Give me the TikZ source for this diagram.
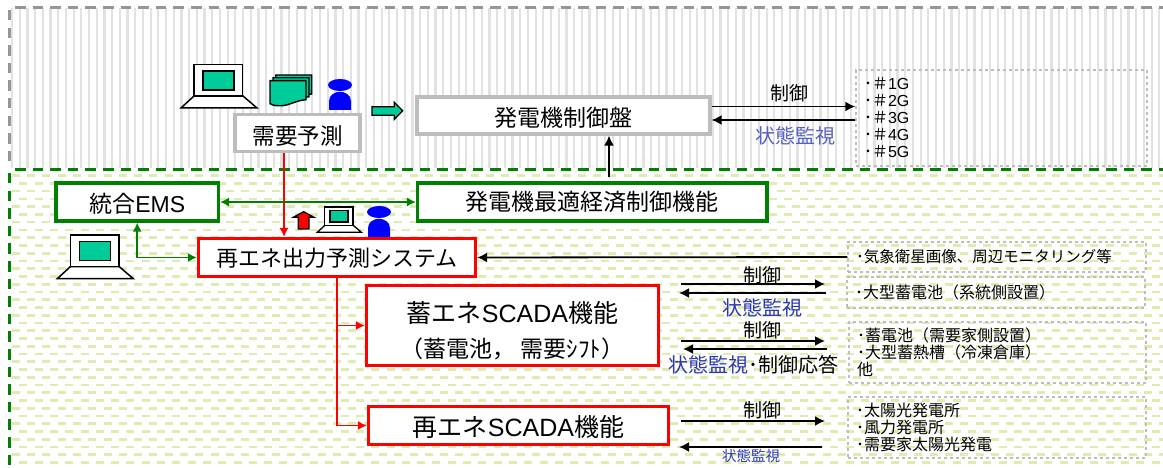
\documentclass[tikz,border=0pt]{standalone}
\usepackage{fontspec}
\setmainfont{Noto Sans CJK JP}
\newfontfamily\latinfont{Liberation Sans}
\usetikzlibrary{arrows.meta}
\definecolor{scrteal}{HTML}{00CC99}
\definecolor{boxgreen}{HTML}{008000}
\definecolor{boxgray}{HTML}{BDBDBD}
\definecolor{edgegray}{HTML}{969696}
\definecolor{stripegray}{HTML}{E2E2E2}
\definecolor{dashgreen}{HTML}{DFECB0}
\definecolor{statblue}{HTML}{2A38B0}
\tikzset{
  sysbox/.style={draw, fill = white, line width = 3.2pt, inner sep = 0pt},
  graybox/.style={sysbox, draw = boxgray},
  greenbox/.style={sysbox, draw = boxgreen},
  redbox/.style={sysbox, draw = red},
  listbox/.style={draw = boxgray, dashed, line width = 1.4pt, inner xsep = 8pt, inner ysep = 0pt, align = left, font = \fontsize{16}{17}\selectfont},
  lbl/.style={inner sep = 0pt, font = \fontsize{19}{19}\selectfont},
  statlbl/.style={inner sep = 0pt, font = \fontsize{20}{20}\selectfont},
  blackarrow/.style={-{Latex[length = 10pt, width = 10pt]}, line width = 1.8pt},
  redarrow/.style={-{Latex[length = 9pt, width = 9pt]}, red, line width = 1.5pt},
  greenarrow/.style={{Latex[length = 9pt, width = 9pt]}-{Latex[length = 9pt, width = 9pt]}, boxgreen, line width = 1.5pt},
}
\begin{document}
\begin{tikzpicture}[x = 1pt, y = -1pt]
\useasboundingbox (0,0) rectangle (1163,468);
% Stripes of upper area
\foreach \xpos in {12,19.7,...,1163}
	\draw[stripegray, line width = 2.2pt] (\xpos, 8) -- (\xpos, 168);
% Stripes of lower area
\foreach \ypos in {175.7,191.2,...,468}
	\draw[dashgreen, line width = 2.6pt, dash pattern = on 8pt off 7.3pt] (11.7, \ypos) -- (1163, \ypos);
\foreach \ypos in {183.4,198.9,...,468}
	\draw[dashgreen, line width = 2.6pt, dash pattern = on 8pt off 7.3pt] (19.3, \ypos) -- (1163, \ypos);
% Area borders
\draw[edgegray, line width = 3pt, dash pattern = on 10.5pt off 7.1pt] (15, 8) -- (1163, 8);
\draw[edgegray, line width = 3pt, dash pattern = on 10.5pt off 7.1pt] (9, 10) -- (9, 168);
\draw[boxgreen, line width = 2.4pt, dash pattern = on 10.5pt off 7.1pt] (15, 169.5) -- (1163, 169.5);
\draw[boxgreen, line width = 3pt, dash pattern = on 10.5pt off 7.1pt] (9, 173) -- (9, 468);
% Boxes
\node[graybox, minimum width = 125pt, minimum height = 37pt, text height = 24pt, font = \fontsize{22.5}{22.5}\selectfont] (demand) at (297.5, 133) {需要予測};
\node[graybox, minimum width = 293pt, minimum height = 37pt, text height = 24pt, font = \fontsize{23}{23}\selectfont] (genpanel) at (563.5, 115.5) {発電機制御盤};
\node[greenbox, minimum width = 162.5pt, minimum height = 38pt, text height = 22pt, font = \fontsize{23}{23}\selectfont] (ems) at (137.2, 202) {統合{\latinfont EMS}};
\node[greenbox, minimum width = 349.5pt, minimum height = 38pt, font = \fontsize{23}{23}\selectfont] (genopt) at (592.3, 202) {発電機最適経済制御機能};
\node[redbox, minimum width = 277pt, minimum height = 38pt, text height = 20pt, font = \fontsize{22}{22}\selectfont] (forecast) at (337, 257.5) {再エネ出力予測システム};
\node[redbox, minimum width = 292pt, minimum height = 80pt, align = center, font = \fontsize{25}{35}\selectfont] (storage) at (512.5, 325.5) {\rule{0pt}{31pt}蓄エネ{\latinfont SCADA}機能\\\fontsize{23}{35}\selectfont（蓄電池，\ 需要ｼﾌﾄ）};
\node[redbox, minimum width = 300pt, minimum height = 38pt, text height = 24pt, font = \fontsize{25}{25}\selectfont] (renew) at (518.5, 425.5) {再エネ{\latinfont SCADA}機能};
% Lists
\node[listbox, text width = 275pt, minimum height = 96pt] (units) at (1001.5, 118) {･＃{\latinfont 1G}\\･＃{\latinfont 2G}\\･＃{\latinfont 3G}\\･＃{\latinfont 4G}\\･＃{\latinfont 5G}};
\node[listbox, text width = 282pt, minimum height = 30pt, font = \fontsize{15.5}{17}\selectfont] (weather) at (997, 257) {･気象衛星画像、周辺モニタリング等};
\node[listbox, text width = 282pt, minimum height = 31pt] (bigbatt) at (996, 292.5) {･大型蓄電池（系統側設置）};
\node[listbox, text width = 281pt, minimum height = 61pt] (custbatt) at (997.5, 352.5) {･蓄電池（需要家側設置）\\･大型蓄熱槽（冷凍倉庫）\\他};
\node[listbox, text width = 282pt, minimum height = 61pt] (plants) at (997, 427.5) {･太陽光発電所\\･風力発電所\\･需要家太陽光発電};
% Free ends of the control arrows
\coordinate (uppera) at (681, 284);
\coordinate (upperb) at (825, 284);
\coordinate (upperc) at (826, 293);
\coordinate (upperd) at (679, 293);
\coordinate (middlea) at (681, 341);
\coordinate (middleb) at (825, 341);
\coordinate (middlec) at (827, 349);
\coordinate (middled) at (683, 349);
\coordinate (lowera) at (681, 421);
\coordinate (lowerb) at (825, 421);
\coordinate (lowerc) at (822, 447);
\coordinate (lowerd) at (679, 447);
% Connectors
\draw[blackarrow] (genpanel.east |- 0, 106.5) -- (units.west |- 0, 106.5);
\draw[blackarrow] (units.west |- 0, 120) -- (genpanel.east |- 0, 120);
\draw[blackarrow] ([xshift = 16.7pt]genopt.north) ++(0, -4) -- ([xshift = 45.5pt]genpanel.south);
\draw[blackarrow] (weather.west) -- (forecast.east);
\draw[blackarrow] (uppera) -- (upperb);
\draw[blackarrow] (upperc) -- (upperd);
\draw[blackarrow] (middlea) -- (middleb);
\draw[blackarrow] (middlec) -- (middled);
\draw[blackarrow] (lowera) -- (lowerb);
\draw[blackarrow] (lowerc) -- (lowerd);
\draw[redarrow] ([xshift = -13.5pt]demand.south) -- ([xshift = -53pt]forecast.north);
\draw[redarrow] (forecast.south) |- (storage.west);
\draw[redarrow] (forecast.south) |- (renew.west);
\draw[greenarrow] (ems.east) -- (genopt.west);
\draw[greenarrow] (ems.south) |- (forecast.west);
% Arrow labels
\node[lbl] (ctrltop) at (789, 93) {制御};
\node[statlbl, text = statblue!80] (stattop) at (795, 136) {状態監視};
\node[lbl] (ctrlupper) at (762, 275) {制御};
\node[statlbl, text = statblue] (statupper) at (762, 308) {状態監視};
\node[lbl] (ctrlmiddle) at (762, 330) {制御};
\node[statlbl] (statmiddle) at (753.5, 365) {{\color{statblue}状態監視}･制御応答};
\node[lbl] (ctrllower) at (762, 410) {制御};
\node[lbl, text = statblue, font = \fontsize{14.5}{14.5}\selectfont] (statlower) at (751, 456) {状態監視};
%Laptop 1
\begin{scope} [shift = {(181,108)}]
\draw[fill = white, line width = 1.5pt] (0,0) -- (76,0) -- (62,-12) -- (13,-12) -- cycle;
\draw[fill = white, line width = 1.5pt] (13,-12) rectangle (61.5,-43.5);
\draw[fill = scrteal, line width = 1.5pt] (22,-18) rectangle (53,-37);
\end{scope}
%Laptop 2
\begin{scope} [shift = {(57.3,278.7)}]
\draw[fill = white, line width = 1.5pt] (0,0) -- (76,0) -- (62,-12) -- (13,-12) -- cycle;
\draw[fill = white, line width = 1.5pt] (13,-12) rectangle (61.5,-43.5);
\draw[fill = scrteal, line width = 1.5pt] (22,-18) rectangle (53,-37);
\end{scope}
%Laptop 3
\begin{scope} [shift = {(317.3,232.3)}, scale = 0.58]
\draw[fill = white, line width = 1.3pt] (0,0) -- (76,0) -- (62,-12) -- (13,-12) -- cycle;
\draw[fill = white, line width = 1.3pt] (13,-12) rectangle (61.5,-43.5);
\draw[fill = scrteal, line width = 1.3pt] (22,-18) rectangle (53,-37);
\end{scope}
%Document stack
\foreach \xoff/\yoff in {5.7/-5.7,3/-2.9,0/0}
{
\begin{scope} [shift = {(270+\xoff,80.7+\yoff)}]
\draw[fill = scrteal, line width = 1.4pt] (0,0) -- (36,0) -- (36,19) .. controls (24,20) and (18,26) .. (8,25) .. controls (4,25) and (2,24) .. (0,23) -- cycle;
\end{scope}
}
%Person 1
\begin{scope} [shift = {(340,110)}]
\fill[blue] (0,-25) ellipse (12 and 6);
\fill[blue] (-11,0) -- (-11,-9) .. controls (-11,-15) and (-5,-18.3) .. (0,-18.3) .. controls (5,-18.3) and (11,-15) .. (11,-9) -- (11,0) -- cycle;
\end{scope}
%Person 2
\begin{scope} [shift = {(379,237)}]
\fill[blue] (0,-25) ellipse (12 and 6);
\fill[blue] (-11,0) -- (-11,-9) .. controls (-11,-15) and (-5,-18.3) .. (0,-18.3) .. controls (5,-18.3) and (11,-15) .. (11,-9) -- (11,0) -- cycle;
\end{scope}
% Block arrows
\draw[fill = scrteal, line width = 1.3pt] (372,106.7) -- (394.3,106.7) -- (394.3,102.3) -- (402.7,110.8) -- (394.3,119.3) -- (394.3,115.3) -- (372,115.3) -- cycle;
\draw[fill = red, line width = 1.3pt] (298.3,229) -- (298.3,217.3) -- (293.3,217.3) -- (303.7,211.7) -- (314,217.3) -- (309,217.3) -- (309,229) -- cycle;
\end{tikzpicture}
\end{document}
